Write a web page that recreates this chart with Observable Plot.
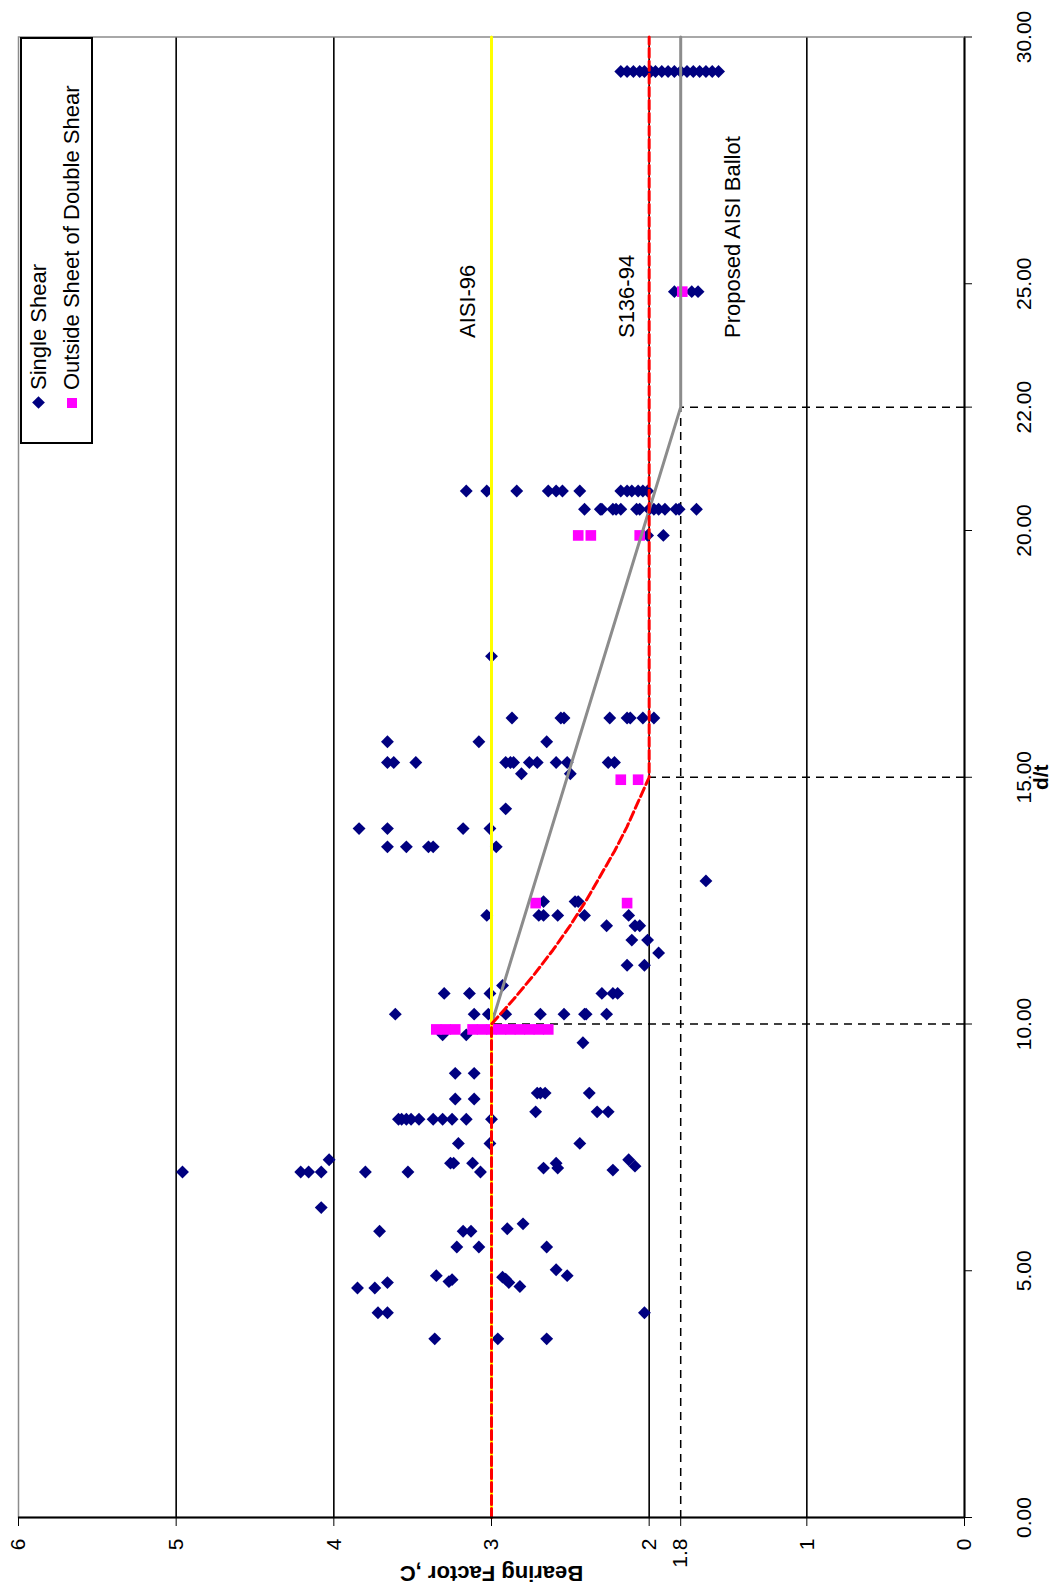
<!DOCTYPE html>
<html>
<head>
<meta charset="utf-8">
<script src="https://cdn.jsdelivr.net/npm/d3@7"></script>
<script src="https://cdn.jsdelivr.net/npm/@observablehq/plot@0.6"></script>
<style>
  html, body { margin: 0; padding: 0; background: #fff; overflow: hidden; }
  #page { position: relative; width: 1056px; height: 1593px; overflow: hidden; background: #fff; }
  /* the chart is drawn in its natural orientation, then turned a quarter turn counter-clockwise */
  #chart { position: absolute; left: 0; top: 0; width: 1593px; height: 1056px;
           transform-origin: 0 0; transform: translate(0px, 1593px) rotate(-90deg); }
  #legend { position: absolute; left: 1149px; top: 20px; width: 407px; height: 73px; box-sizing: border-box;
            border: 2px solid #000; background: #fff; padding-left: 31px;
            font: 22px "Liberation Sans", Arial, sans-serif; color: #000; }
  #legend .row { height: 33px; display: flex; align-items: center; white-space: nowrap; }
  #legend .sym { width: 16px; height: 16px; margin-right: 5px; display: flex; align-items: center; justify-content: center; }
  #legend .diamond { width: 9px; height: 9px; background: #000080; transform: rotate(45deg); }
  #legend .square { width: 10px; height: 10px; background: #ff00ff; }
</style>
</head>
<body>
<div id="page"><div id="chart"></div></div>
<script>
// ---------- data ----------
const dtTicks = [0, 5, 10, 15, 20, 22.5, 25, 30];
const dtTickLabels = ["0.00", "5.00", "10.00", "15.00", "20.00", "22.00", "25.00", "30.00"];
const cTicks = [0, 1, 1.8, 2, 3, 4, 5, 6];
const cTickLabels = ["0", "1", "1.8", "2", "3", "4", "5", "6"];
const gridC = [1, 2, 3, 4, 5];
const seriesNames = ["Single Shear", "Outside Sheet of Double Shear"];
const seriesColors = ["#000080", "#ff00ff"];

// Single Shear (d/t, C)
const singleDt = [
  3.62, 3.62, 3.62,
  4.15, 4.15, 4.15,
  4.65, 4.65, 4.76, 4.68,
  4.87, 4.83, 4.76,
  4.90, 4.78, 4.82,
  4.90, 5.02,
  5.48, 5.48, 5.48,
  5.80, 5.80, 5.80, 5.85, 5.95,
  6.28,
  7.00, 7.00, 7.00, 7.00, 7.25, 7.00, 7.00, 7.18, 7.18, 7.18, 7.00, 7.08, 7.18, 7.08, 7.04, 7.25, 7.12,
  7.58, 7.58, 7.58,
  8.07, 8.07, 8.07, 8.07, 8.07, 8.07, 8.07, 8.07, 8.07, 8.07,
  8.22, 8.22, 8.22,
  8.48, 8.48,
  8.60, 8.60, 8.60, 8.60,
  9.00, 9.00,
  9.62,
  9.78, 9.78,
  10.20, 10.20, 10.20, 10.20, 10.20, 10.20, 10.20, 10.20, 10.20,
  10.62, 10.62, 10.62, 10.62, 10.62, 10.62, 10.78,
  11.19, 11.19, 11.44, 11.70, 11.70, 11.99, 11.99, 11.99,
  12.20, 12.20, 12.20, 12.20, 12.20, 12.20,
  12.48, 12.48, 12.48, 12.90,
  13.59, 13.59, 13.59, 13.59, 13.59,
  13.96, 13.96, 13.96, 13.96,
  14.36,
  15.07, 15.07,
  15.30, 15.30, 15.30, 15.30, 15.30, 15.30, 15.30, 15.30, 15.30, 15.30, 15.30, 15.30,
  15.72, 15.72, 15.72,
  16.20, 16.20, 16.20, 16.20, 16.20, 16.20, 16.20, 16.20,
  17.45,
  19.90, 19.90,
  20.43, 20.43, 20.43, 20.43, 20.43, 20.43, 20.43, 20.43, 20.43, 20.43, 20.43, 20.43, 20.43, 20.43, 20.43,
  20.80, 20.80, 20.80, 20.80, 20.80, 20.80, 20.80, 20.80, 20.80, 20.80, 20.80, 20.80, 20.80,
  24.84, 24.84, 24.84,
  29.30, 29.30, 29.30, 29.30, 29.30, 29.30, 29.30, 29.30, 29.30, 29.30, 29.30, 29.30, 29.30, 29.30, 29.30, 29.30, 29.30
];
const singleC = [
  3.36, 2.96, 2.65,
  3.72, 3.66, 2.03,
  3.85, 3.74, 3.66, 2.82,
  2.93, 2.91, 2.89,
  3.35, 3.27, 3.25,
  2.52, 2.59,
  3.22, 3.08, 2.65,
  3.71, 3.18, 3.13, 2.90, 2.80,
  4.08,
  4.96, 4.21, 4.16, 4.08, 4.03, 3.80, 3.53, 3.26, 3.24, 3.12, 3.07, 2.67, 2.59, 2.58, 2.23, 2.13, 2.09,
  3.21, 3.01, 2.44,
  3.59, 3.57, 3.54, 3.51, 3.46, 3.37, 3.31, 3.25, 3.16, 3.00,
  2.72, 2.33, 2.26,
  3.23, 3.11,
  2.71, 2.69, 2.66, 2.38,
  3.23, 3.11,
  2.42,
  3.31, 3.16,
  3.61, 3.11, 3.02, 2.91, 2.69, 2.54, 2.41, 2.40, 2.27,
  3.30, 3.14, 3.01, 2.30, 2.23, 2.20, 2.93,
  2.14, 2.03, 1.94, 2.11, 2.01, 2.27, 2.09, 2.06,
  3.03, 2.70, 2.67, 2.58, 2.41, 2.13,
  2.67, 2.47, 2.45, 1.64,
  3.66, 3.54, 3.40, 3.37, 2.97,
  3.84, 3.66, 3.18, 3.01,
  2.91,
  2.81, 2.50,
  3.66, 3.62, 3.48, 2.91, 2.88, 2.86, 2.76, 2.71, 2.59, 2.52, 2.26, 2.22,
  3.66, 3.08, 2.65,
  2.87, 2.56, 2.54, 2.25, 2.14, 2.12, 2.04, 1.97,
  3.00,
  2.01, 1.91,
  2.41, 2.31, 2.30, 2.23, 2.21, 2.18, 2.08, 2.06, 2.00, 1.97, 1.94, 1.90, 1.83, 1.81, 1.70,
  3.16, 3.03, 2.84, 2.64, 2.59, 2.55, 2.44, 2.18, 2.14, 2.11, 2.07, 2.04, 2.01,
  1.84, 1.73, 1.69,
  2.18, 2.14, 2.10, 2.06, 2.03, 1.99, 1.96, 1.92, 1.88, 1.84, 1.80, 1.76, 1.72, 1.68, 1.64, 1.60, 1.56
];

// Outside Sheet of Double Shear (d/t, C)
const doubleDt = [9.89, 9.89, 9.89, 9.89, 9.89, 9.89, 9.89, 9.89, 9.89, 9.89, 9.89, 9.89,
  12.45, 12.45, 14.95, 14.95, 19.90, 19.90, 19.90, 24.84];
const doubleC = [3.35, 3.29, 3.23, 3.12, 3.06, 3.00, 2.94, 2.88, 2.82, 2.76, 2.70, 2.64,
  2.72, 2.14, 2.18, 2.07, 2.45, 2.37, 2.06, 1.79];

// design lines
const aisi96Dt = [0, 30];
const aisi96C = [3, 3];
const s136Dt = [0, 10, 10.5, 11, 11.5, 12, 12.5, 13, 13.5, 14, 14.5, 15, 30];
const s136C = [3, 3, 2.86, 2.73, 2.61, 2.5, 2.4, 2.31, 2.22, 2.14, 2.07, 2, 2];
const ballotDt = [0, 10, 22.5, 30];
const ballotC = [3, 3, 1.8, 1.8];

// dashed drop lines
const dropDt = [10, 15, 22.5];
const dropC = [3, 2, 1.8];
const floorC = [1.8];
const floorDtEnd = [22.5];

// line labels
const lineLabels = ["AISI-96", "S136-94", "Proposed AISI Ballot"];
const lineLabelDt = [23.9, 23.9, 23.9];
const lineLabelC = [3.15, 2.14, 1.47];

const xTitle = "d/t";
const yTitle = "Bearing Factor ,C";

// ---------- build ----------
const single = singleDt.map((d, i) => ({dt: d, c: singleC[i]}));
const dbl = doubleDt.map((d, i) => ({dt: d, c: doubleC[i]}));
const aisi96 = aisi96Dt.map((d, i) => ({dt: d, c: aisi96C[i]}));
const s136 = s136Dt.map((d, i) => ({dt: d, c: s136C[i]}));
const ballot = ballotDt.map((d, i) => ({dt: d, c: ballotC[i]}));
const drops = dropDt.map((d, i) => ({dt: d, c: dropC[i]}));
const floor = floorC.map((c, i) => ({c, end: floorDtEnd[i]}));
const labels = lineLabels.map((t, i) => ({t, dt: lineLabelDt[i], c: lineLabelC[i]}));
const dtMap = new Map(dtTicks.map((d, i) => [d, dtTickLabels[i]]));
const cMap = new Map(cTicks.map((d, i) => [d, cTickLabels[i]]));

const chart = Plot.plot({
  width: 1593,
  height: 1056,
  marginLeft: 75,
  marginRight: 37.5,
  marginTop: 18,
  marginBottom: 92,
  style: {fontFamily: '"Liberation Sans", Arial, sans-serif', fontSize: "21px", color: "#000", background: "#fff"},
  x: {domain: [0, 30]},
  y: {domain: [0, 6]},
  marks: [
    Plot.frame({stroke: "#8c8c8c", strokeWidth: 1.5}),
    Plot.ruleY(gridC, {stroke: "#000", strokeWidth: 1.6}),
    Plot.ruleX(drops, {x: "dt", y1: 0, y2: "c", stroke: "#000", strokeWidth: 1.5, strokeDasharray: "8,6"}),
    Plot.ruleY(floor, {y: "c", x1: 0, x2: "end", stroke: "#000", strokeWidth: 1.5, strokeDasharray: "8,6"}),
    Plot.dot(single, {x: "dt", y: "c", symbol: "diamond2", r: 5.8, fill: seriesColors[0]}),
    Plot.dot(dbl, {x: "dt", y: "c", symbol: "square", r: 6, fill: seriesColors[1]}),
    Plot.line(ballot, {x: "dt", y: "c", stroke: "#8c8c8c", strokeWidth: 3}),
    Plot.line(aisi96, {x: "dt", y: "c", stroke: "#ffff00", strokeWidth: 3}),
    Plot.line(s136, {x: "dt", y: "c", stroke: "#ff0000", strokeWidth: 3, strokeDasharray: "9,4"}),
    Plot.ruleY([0], {stroke: "#000", strokeWidth: 2}),
    Plot.ruleX([0], {stroke: "#000", strokeWidth: 2}),
    Plot.axisX({ticks: dtTicks, tickFormat: d => dtMap.get(d), tickSize: 8, tickPadding: 44, label: null}),
    Plot.axisY({ticks: cTicks, tickFormat: d => cMap.get(d), tickSize: 8, tickPadding: 13, label: null}),
    Plot.text(labels, {x: "dt", y: "c", text: "t", textAnchor: "start", fontSize: 22, fill: "#000"}),
    Plot.text([xTitle], {frameAnchor: "bottom", dy: 77, textAnchor: "middle", lineAnchor: "middle", fontWeight: "bold", fontSize: 21, fill: "#000"}),
    Plot.text([yTitle], {frameAnchor: "left", dx: -56, rotate: -90, textAnchor: "middle", lineAnchor: "middle", fontWeight: "bold", fontSize: 22, fill: "#000"})
  ]
});
document.getElementById("chart").appendChild(chart);

// legend (turned with the chart)
const legend = document.createElement("div");
legend.id = "legend";
seriesNames.forEach((name, i) => {
  const row = document.createElement("div");
  row.className = "row";
  const sym = document.createElement("span");
  sym.className = "sym";
  const mark = document.createElement("span");
  mark.className = i === 0 ? "diamond" : "square";
  sym.appendChild(mark);
  const label = document.createElement("span");
  label.textContent = name;
  row.appendChild(sym);
  row.appendChild(label);
  legend.appendChild(row);
});
document.getElementById("chart").appendChild(legend);
</script>
</body>
</html>
